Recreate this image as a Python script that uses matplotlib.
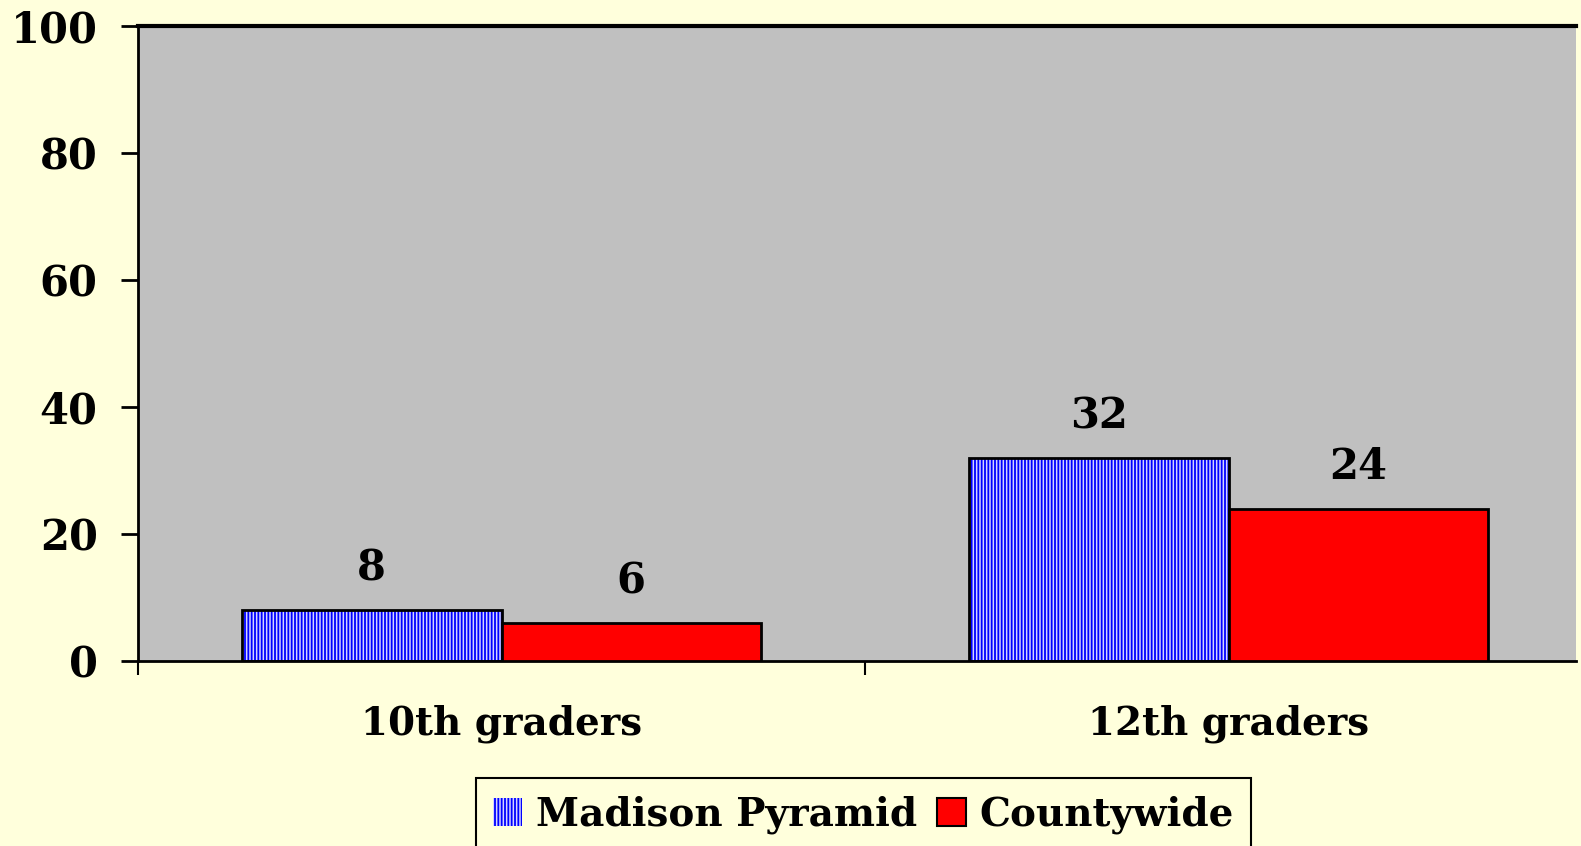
import matplotlib.pyplot as plt
from matplotlib.patches import Patch

categories = ['10th graders', '12th graders']
madison = [8, 32]
countywide = [6, 24]
series_names = ['Madison Pyramid', 'Countywide']
yticks = [0, 20, 40, 60, 80, 100]

plt.rcParams['font.family'] = ['DejaVu Serif']
plt.rcParams['font.weight'] = 'bold'
plt.rcParams['hatch.linewidth'] = 1.3

W, H = 1581, 846
fig = plt.figure(figsize=(W / 100, H / 100), dpi=100, facecolor='#FFFFDC')

# axes placed in pixel coords
left, right, top, bottom = 138, 1576, 26, 661
ax = fig.add_axes([left / W, 1 - bottom / H, (right - left) / W, (bottom - top) / H])
ax.set_facecolor('#C0C0C0')

bw = 0.357
x = list(range(len(categories)))
xb = [i - bw / 2 for i in x]
xr = [i + bw / 2 for i in x]

# hatched blue bars, then black outline on top
ax.bar(xb, madison, bw, color='#D4D4FF', edgecolor='#0000FF', hatch='|||||', linewidth=0, zorder=2)
ax.bar(xb, madison, bw, fill=False, edgecolor='black', linewidth=2, zorder=3)
ax.bar(xr, countywide, bw, color='#FF0000', edgecolor='black', linewidth=2, zorder=3)

for xs, vals in ((xb, madison), (xr, countywide)):
    for xi, v in zip(xs, vals):
        ax.annotate(str(v), (xi, v), xytext=(0, 30), textcoords='offset points',
                    ha='center', va='center', fontsize=30, fontweight='bold')

ax.set_ylim(0, 100)
ax.set_xlim(-0.5, 0.5 + (right - 865) / (865 - left))
ax.set_yticks(yticks)
ax.set_yticklabels([str(t) for t in yticks], fontsize=30, fontweight='bold')
ax.tick_params(axis='y', length=12, width=2, pad=17)

ax.set_xticks(x)
ax.set_xticklabels(categories, fontsize=28, fontweight='bold')
ax.set_xticks([-0.5, 0.5], minor=True)
ax.tick_params(axis='x', which='major', length=0, pad=31)
ax.tick_params(axis='x', which='minor', length=10, width=1.5)

ax.spines['right'].set_visible(False)
ax.spines['top'].set_linewidth(3)
ax.spines['left'].set_linewidth(2)
ax.spines['bottom'].set_linewidth(2)

handles = [Patch(facecolor='#D4D4FF', edgecolor='#0000FF', hatch='|||||', linewidth=0),
           Patch(facecolor='#FF0000', edgecolor='black', linewidth=1.5)]
leg = fig.legend(handles, series_names, loc='upper center', bbox_to_anchor=(863.5 / W, 1 - 778 / H),
                 ncol=2, frameon=True, fancybox=False, edgecolor='black',
                 prop={'size': 28, 'weight': 'bold'},
                 facecolor='#FFFFDC', framealpha=1, handlelength=0.75, handleheight=0.75,
                 columnspacing=0.5, handletextpad=0.35, borderpad=0.45, borderaxespad=0)
leg.get_frame().set_linewidth(1.5)

fig.savefig('out.png', dpi=100, facecolor=fig.get_facecolor())
